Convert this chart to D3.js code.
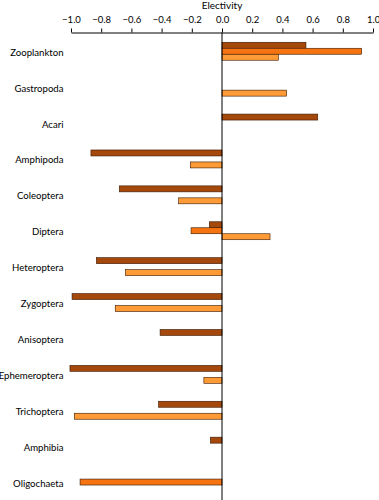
<!DOCTYPE html>
<html>
<head>
<meta charset="utf-8">
<script src="https://cdn.jsdelivr.net/npm/d3@7"></script>
<style>
  html, body { margin: 0; padding: 0; background: #fff; }
  svg { display: block; }
  text { font-family: Lato, "Open Sans", sans-serif; fill: #000; }
</style>
</head>
<body>
<svg id="chart" width="379" height="500"></svg>
<script>
const categories = ["Zooplankton","Gastropoda","Acari","Amphipoda","Coleoptera","Diptera","Heteroptera","Zygoptera","Anisoptera","Ephemeroptera","Trichoptera","Amphibia","Oligochaeta"];
const seriesNames = ["S1","S2","S3"];
const series1 = [0.556, null, 0.634, -0.868, -0.68, -0.084, -0.832, -0.993, -0.41, -1.007, -0.42, -0.077, null];
const series2 = [0.925, null, null, null, null, -0.205, null, null, null, null, null, null, -0.94];
const series3 = [0.373, 0.428, null, -0.21, -0.287, 0.318, -0.64, -0.707, null, -0.12, -0.978, null, null];
const tickValues = [-1.0,-0.8,-0.6,-0.4,-0.2,0.0,0.2,0.4,0.6,0.8,1.0];
const colors = ["#A5480B", "#F57310", "#FF9B36"];
const axisTitle = "Electivity";

const svg = d3.select("#chart");
const x = d3.scaleLinear().domain([-1, 1]).range([71, 373]);
const y0 = d3.scaleBand().domain(categories).range([33.3, 500]).padding(0);
const y1 = d3.scaleBand().domain(seriesNames)
  .range([y0.bandwidth() * 0.25, y0.bandwidth() * 0.75]).padding(0);

const allSeries = [series1, series2, series3];
const records = [];
categories.forEach((c, i) => {
  allSeries.forEach((s, j) => {
    if (s[i] !== null && s[i] !== undefined) records.push({cat: c, ser: seriesNames[j], val: s[i], idx: j});
  });
});

// bars
svg.append("g").selectAll("rect").data(records).join("rect")
  .attr("x", d => x(Math.min(0, d.val)))
  .attr("width", d => Math.abs(x(d.val) - x(0)))
  .attr("y", d => y0(d.cat) + y1(d.ser))
  .attr("height", y1.bandwidth())
  .attr("fill", d => colors[d.idx])
  .attr("stroke", "#3a1800")
  .attr("stroke-width", 0.6);

// top axis
const axis = d3.axisTop(x).tickValues(tickValues).tickFormat(d3.format(".1f")).tickSize(4).tickSizeOuter(0).tickPadding(6);
const ag = svg.append("g").attr("transform", "translate(0,32.5)").call(axis);
ag.select(".domain").attr("stroke", "#000").attr("stroke-width", 1);
ag.selectAll(".tick line").attr("stroke", "#000");
ag.selectAll(".tick text").style("font-size", "9.5px").style("font-family", "Lato, sans-serif").attr("fill", "#222");

// zero line
svg.append("line")
  .attr("x1", x(0)).attr("x2", x(0))
  .attr("y1", 32.5).attr("y2", 500)
  .attr("stroke", "#000").attr("stroke-width", 1);

// axis title
svg.append("text").attr("x", x(0)).attr("y", 9).attr("text-anchor", "middle")
  .style("font-size", "10px").text(axisTitle);

// category labels
svg.append("g").selectAll("text").data(categories).join("text")
  .attr("x", 63.5)
  .attr("y", d => y0(d) + y0.bandwidth() / 2 + 4.5)
  .attr("text-anchor", "end")
  .style("font-size", "9.6px")
  .text(d => d);
</script>
</body>
</html>
